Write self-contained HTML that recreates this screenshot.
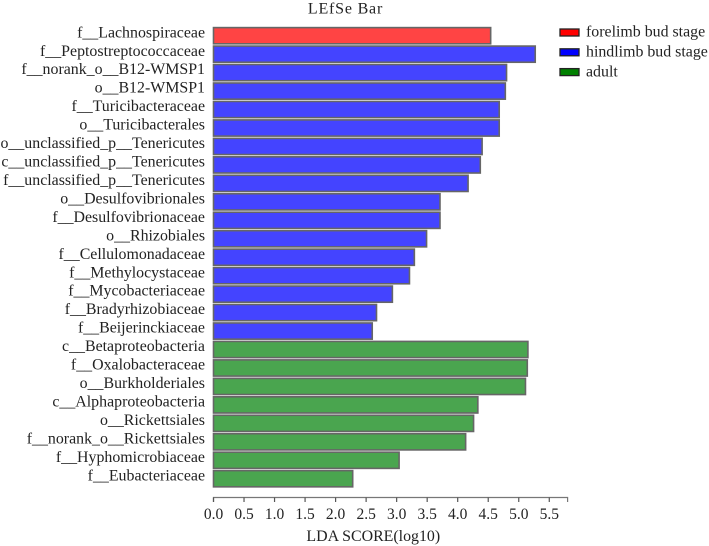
<!DOCTYPE html>
<html>
<head>
<meta charset="utf-8">
<title>LEfSe Bar</title>
<style>
html,body{margin:0;padding:0;background:#fff}
svg{display:block}
text{font-family:"Liberation Serif",serif;fill:#222}
</style>
</head>
<body>
<svg id="chart" xmlns="http://www.w3.org/2000/svg" width="709" height="546" viewBox="0 0 709 546">
  <text x="345.5" y="13.5" text-anchor="middle" font-size="16" letter-spacing="0.8">LEfSe Bar</text>
  <text x="373.3" y="541" text-anchor="middle" font-size="15.9">LDA SCORE(log10)</text>
  <g id="bars"></g>
  <g id="labels"></g>
  <g id="axis"></g>
  <g id="legend"></g>
</svg>
<script>
const categories = ["f__Lachnospiraceae","f__Peptostreptococcaceae","f__norank_o__B12-WMSP1","o__B12-WMSP1","f__Turicibacteraceae","o__Turicibacterales","o__unclassified_p__Tenericutes","c__unclassified_p__Tenericutes","f__unclassified_p__Tenericutes","o__Desulfovibrionales","f__Desulfovibrionaceae","o__Rhizobiales","f__Cellulomonadaceae","f__Methylocystaceae","f__Mycobacteriaceae","f__Bradyrhizobiaceae","f__Beijerinckiaceae","c__Betaproteobacteria","f__Oxalobacteraceae","o__Burkholderiales","c__Alphaproteobacteria","o__Rickettsiales","f__norank_o__Rickettsiales","f__Hyphomicrobiaceae","f__Eubacteriaceae"];
const values = [4.54,5.27,4.80,4.78,4.68,4.68,4.40,4.37,4.17,3.71,3.71,3.49,3.29,3.21,2.93,2.67,2.60,5.15,5.14,5.11,4.33,4.26,4.13,3.04,2.28];
const groups = ["forelimb bud stage","hindlimb bud stage","hindlimb bud stage","hindlimb bud stage","hindlimb bud stage","hindlimb bud stage","hindlimb bud stage","hindlimb bud stage","hindlimb bud stage","hindlimb bud stage","hindlimb bud stage","hindlimb bud stage","hindlimb bud stage","hindlimb bud stage","hindlimb bud stage","hindlimb bud stage","hindlimb bud stage","adult","adult","adult","adult","adult","adult","adult","adult"];
const tickValues = [0,0.5,1,1.5,2,2.5,3,3.5,4,4.5,5,5.5];
const axisMax = 5.8;
const legendNames = ["forelimb bud stage","hindlimb bud stage","adult"];
const barColors = {"forelimb bud stage":"#ff4444","hindlimb bud stage":"#4444ff","adult":"#4aa54f"};
const legendColors = {"forelimb bud stage":"#ff0000","hindlimb bud stage":"#0000ff","adult":"#008000"};

const NS = "http://www.w3.org/2000/svg";
const xScale = v => 213.5 + v * 61.05;
const yScale = i => 27.6 + i * 18.46;
const barHeight = 16.2;
function make(parent, tag, attrs, txt) {
  const el = document.createElementNS(NS, tag);
  for (const k in attrs) el.setAttribute(k, attrs[k]);
  if (txt !== undefined) el.textContent = txt;
  parent.appendChild(el);
  return el;
}
const barsG = document.getElementById('bars');
const labelsG = document.getElementById('labels');
categories.forEach((c, i) => {
  const r = make(barsG, 'rect', {x: xScale(0), y: yScale(i), width: xScale(values[i]) - xScale(0), height: barHeight, fill: barColors[groups[i]], stroke: '#666', 'stroke-width': 1.6});
  
  
  const t = make(labelsG, 'text', {x: 205, y: yScale(i) + 9.7, 'text-anchor': 'end', 'font-size': 15.9}, c);
  
  
});
const axisG = document.getElementById('axis');
const axisLine = make(axisG, 'path', {d: 'M' + xScale(0) + ' 502V497.5H' + xScale(axisMax) + 'V502', fill: 'none', stroke: '#777', 'stroke-width': 1.2});


tickValues.forEach(v => {
  const tick = make(axisG, 'line', {x1: xScale(v), x2: xScale(v), y1: 497.5, y2: 502, stroke: '#555', 'stroke-width': 1.2});
  
  
  const lab = make(axisG, 'text', {x: xScale(v), y: 519, 'text-anchor': 'middle', 'font-size': 15.5}, v.toFixed(1));
  
  
});
const legendG = document.getElementById('legend');
legendNames.forEach((n, i) => {
  const y = 29 + i * 19.8;
  const sw = make(legendG, 'rect', {x: 560, y: y, width: 19, height: 7, fill: legendColors[n], stroke: '#222', 'stroke-width': 1.3});
  
  
  const lt = make(legendG, 'text', {x: 586, y: y + 7.7, 'font-size': 15.9}, n);
  
  
});
</script>
</body>
</html>
